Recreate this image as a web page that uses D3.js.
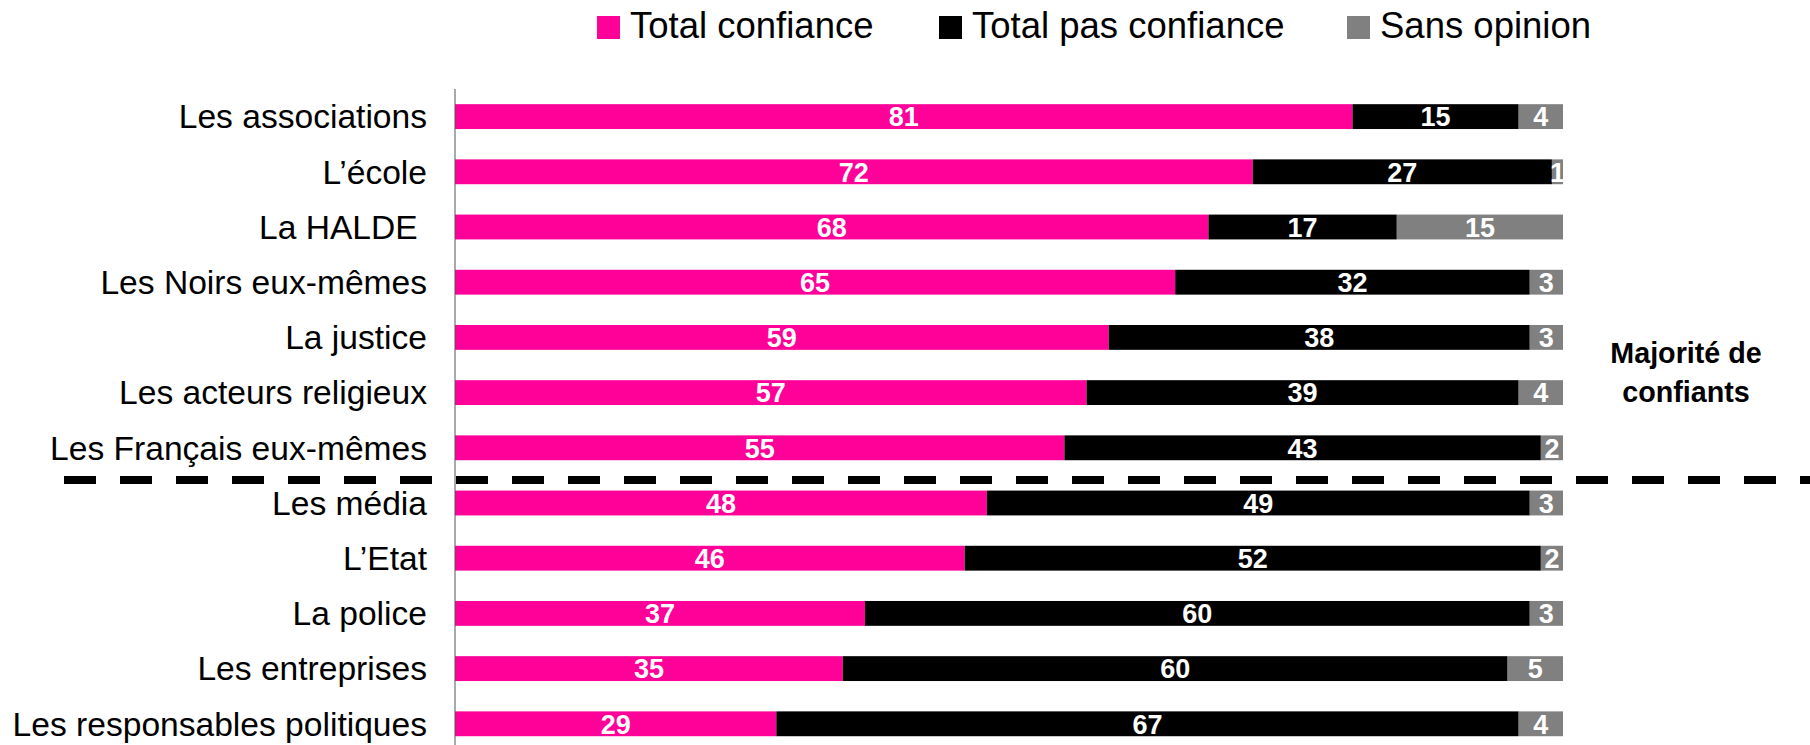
<!DOCTYPE html>
<html>
<head>
<meta charset="utf-8">
<style>
	body { margin: 0; background: #fff; }
	text { font-family: "Liberation Sans", Arial, sans-serif; }
</style>
</head>
<body>
<svg class="chart"></svg>
<script src="https://d3js.org/d3.v7.min.js"></script>
<script>

var categories = ["Les associations", "L’école", "La HALDE ", "Les Noirs eux-mêmes", "La justice",
	"Les acteurs religieux", "Les Français eux-mêmes", "Les média", "L’Etat", "La police",
	"Les entreprises", "Les responsables politiques"];
var confiance    = [81, 72, 68, 65, 59, 57, 55, 48, 46, 37, 35, 29];
var pasConfiance = [15, 27, 17, 32, 38, 39, 43, 49, 52, 60, 60, 67];
var sansOpinion  = [ 4,  1, 15,  3,  3,  4,  2,  3,  2,  3,  5,  4];
var seriesNames  = ["Total confiance", "Total pas confiance", "Sans opinion"];
var colors       = ["#ff0099", "#000000", "#808080"];
var noteLines    = ["Majorité de", "confiants"];
var splitAfter   = 6; // index of last "majorité" row

var width = 1810, height = 745;
var axisX = 455, barEnd = 1563;

var svg = d3.select(".chart")
	.attr("width", width)
	.attr("height", height);

var x = d3.scaleLinear().domain([0, 100]).range([axisX, barEnd]);
var y = d3.scaleBand().domain(categories).range([89, 89 + 12 * 55.2]).paddingInner(0.55).paddingOuter(0.275);

var rows = categories.map(function(c, i) {
	return { name: c, values: [confiance[i], pasConfiance[i], sansOpinion[i]] };
});

var stack = d3.stack().keys([0, 1, 2]).value(function(d, k) { return d.values[k]; });
var layers = stack(rows);

var layer = svg.selectAll("g.layer")
	.data(layers)
	.enter().append("g")
	.attr("class", "layer")
	.attr("fill", function(d, i) { return colors[i]; });

layer.selectAll("rect")
	.data(function(d) { return d; })
	.enter().append("rect")
	.attr("x", function(d) { return x(d[0]); })
	.attr("y", function(d) { return y(d.data.name); })
	.attr("width", function(d) { return x(d[1]) - x(d[0]); })
	.attr("height", y.bandwidth());

layer.selectAll("text")
	.data(function(d) { return d; })
	.enter().append("text")
	.attr("x", function(d) { return (x(d[0]) + x(d[1])) / 2; })
	.attr("y", function(d) { return y(d.data.name) + y.bandwidth() / 2; })
	.attr("dy", "0.36em")
	.attr("text-anchor", "middle")
	.attr("fill", "#fff")
	.style("font-weight", "bold")
	.style("font-size", "27px")
	.text(function(d) { return d[1] - d[0]; });

// category labels
svg.append("g").selectAll("text")
	.data(categories)
	.enter().append("text")
	.attr("x", axisX - 28)
	.attr("y", function(d) { return y(d) + y.bandwidth() / 2; })
	.attr("dy", "0.35em")
	.attr("text-anchor", "end")
	.style("font-size", "33.6px")
	.style("white-space", "pre")
	.text(function(d) { return d; });

// vertical axis line
svg.append("line")
	.attr("x1", axisX).attr("x2", axisX)
	.attr("y1", 89).attr("y2", height)
	.attr("stroke", "#555")
	.attr("stroke-width", 1);

// dashed separator, a bit below the gap middle
var sepY = y(categories[splitAfter]) + y.bandwidth() + (y.step() - y.bandwidth()) / 2 + 4.5;
svg.append("line")
	.attr("x1", 64).attr("x2", width)
	.attr("y1", sepY).attr("y2", sepY)
	.attr("stroke", "#000")
	.attr("stroke-width", 8)
	.attr("stroke-dasharray", "32,24");

// note
svg.append("g").selectAll("text")
	.data(noteLines)
	.enter().append("text")
	.attr("x", 1686)
	.attr("y", function(d, i) { return 353 + i * 39; })
	.attr("dy", "0.35em")
	.attr("text-anchor", "middle")
	.style("font-weight", "bold")
	.style("font-size", "28.7px")
	.text(function(d) { return d; });

// legend
var legendX = [597, 939, 1347];
var legend = svg.selectAll("g.legend")
	.data(seriesNames)
	.enter().append("g")
	.attr("class", "legend")
	.attr("transform", function(d, i) { return "translate(" + legendX[i] + ",0)"; });

legend.append("rect")
	.attr("y", 16)
	.attr("width", 23)
	.attr("height", 23)
	.attr("fill", function(d, i) { return colors[i]; });

legend.append("text")
	.attr("x", 33)
	.attr("y", 38)
	.style("font-size", "36.5px")
	.text(function(d) { return d; });

</script>
</body>
</html>
